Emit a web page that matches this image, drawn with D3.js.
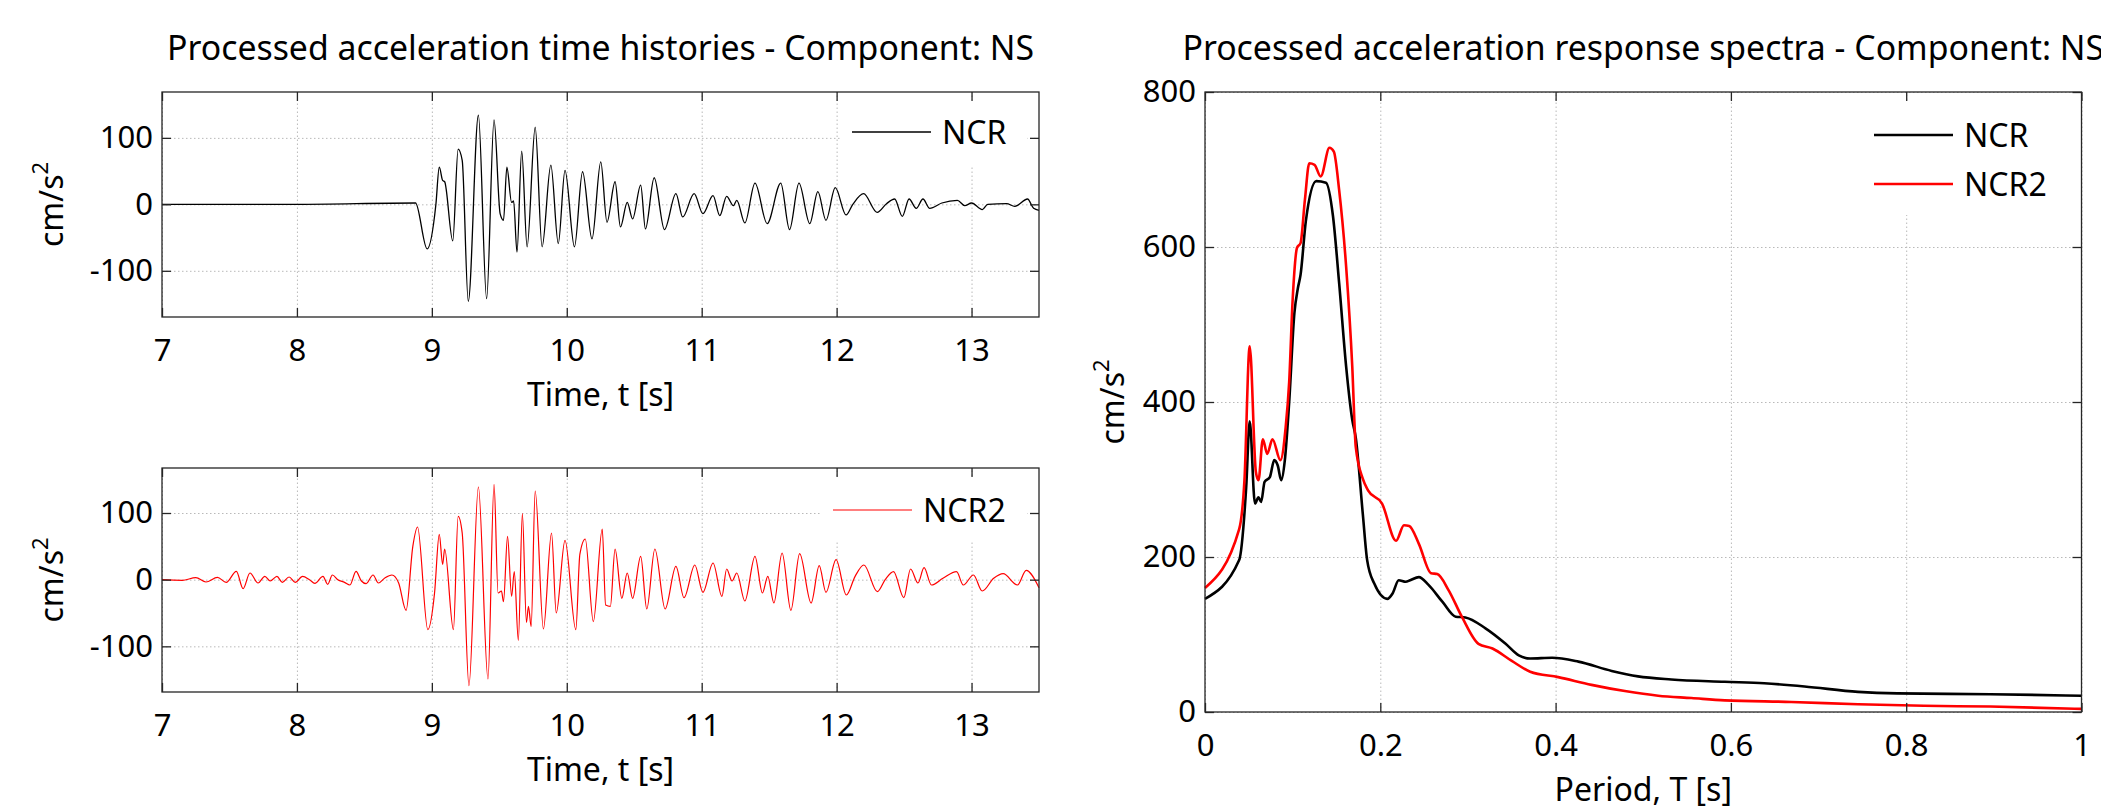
<!DOCTYPE html>
<html>
<head>
<meta charset="utf-8">
<script src="https://cdn.jsdelivr.net/npm/d3@7"></script>
<style>
  body { margin: 0; background: #fff; }
  svg { display: block; font-family: "Noto Sans", sans-serif; }
  .grid line { stroke: #b9b9b9; stroke-dasharray: 1.5 2.5; stroke-width: 1; }
  .grid .domain { display: none; }
  .ticks .domain { display: none; }
  .ticks line { stroke: #262626; stroke-width: 1.3; }
  .ticks text { font-size: 31px; fill: #000; font-family: "Noto Sans", sans-serif; }
  .frame { fill: none; stroke: #262626; stroke-width: 1.3; }
  .label, .legend text { fill: #000; font-size: 32px; }
  .title { fill: #000; font-size: 33.8px; }
</style>
</head>
<body>
<svg id="chart" width="2101" height="811"></svg>
<script>
// tick labels
const timeTicks = [7, 8, 9, 10, 11, 12, 13];
const accTicks = [-100, 0, 100];
const periodTicks = [0, 0.2, 0.4, 0.6, 0.8, 1];
const saTicks = [0, 200, 400, 600, 800];

// NCR acceleration time history (s, cm/s2), peaks and troughs
const ncrTime = [7, 8, 8.879, 8.965, 9.03, 9.055, 9.08, 9.095, 9.155, 9.195, 9.225, 9.27, 9.345, 9.406,
  9.461, 9.506, 9.531, 9.556, 9.591, 9.606, 9.631, 9.666, 9.706, 9.766, 9.817, 9.882, 9.937, 9.987,
  10.057, 10.117, 10.187, 10.252, 10.298, 10.358, 10.398, 10.448, 10.488, 10.548, 10.583, 10.648,
  10.724, 10.809, 10.859, 10.944, 11.009, 11.084, 11.134, 11.185, 11.235, 11.26, 11.32, 11.395,
  11.485, 11.586, 11.651, 11.721, 11.801, 11.861, 11.921, 11.99, 12.07, 12.12, 12.2, 12.3, 12.37,
  12.43, 12.487, 12.537, 12.59, 12.64, 12.69, 12.78, 12.895, 12.95, 13.0, 13.08, 13.12, 13.26,
  13.32, 13.415, 13.46, 13.5];
const ncrAcc = [0, 0, 2, -67, 0, 56, 36, 34, -55, 83, 66, -146, 134, -142,
  127, -14, -24, 56, 3, 5, -72, 80, -64, 116, -64, 59, -59, 51,
  -64, 49, -52, 64, -27, 34, -34, 3, -22, 29, -37, 40,
  -38, 16, -19, 16, -14, 13, -17, 12, -2, 6, -28, 32,
  -29, 32, -38, 32, -29, 19, -24, 25, -16, 0, 16, -12, 1,
  8, -18, 8, -6, 8, -6, 2, 6, -2, 2, -8, 0, 1,
  -3, 8, -6, -9];

// NCR2 acceleration time history (s, cm/s2)
const ncr2Time = [7, 7.15, 7.251, 7.326, 7.411, 7.476, 7.551, 7.601, 7.652, 7.712, 7.762, 7.802, 7.852,
  7.892, 7.942, 7.987, 8.042, 8.093, 8.133, 8.193, 8.228, 8.263, 8.303, 8.353, 8.393, 8.438, 8.478,
  8.513, 8.564, 8.604, 8.654, 8.704, 8.754, 8.809, 8.859, 8.894, 8.97, 9.02, 9.055, 9.08, 9.095,
  9.16, 9.195, 9.225, 9.275, 9.345, 9.416, 9.461, 9.491, 9.516, 9.531, 9.561, 9.591, 9.611, 9.641,
  9.671, 9.701, 9.716, 9.736, 9.766, 9.827, 9.887, 9.922, 9.987, 10.067, 10.097, 10.137, 10.197,
  10.263, 10.288, 10.323, 10.358, 10.408, 10.448, 10.488, 10.548, 10.593, 10.653, 10.729, 10.809,
  10.869, 10.949, 11.009, 11.084, 11.15, 11.185, 11.225, 11.26, 11.32, 11.395, 11.45, 11.49, 11.535,
  11.596, 11.661, 11.726, 11.811, 11.871, 11.921, 11.996, 12.072, 12.137, 12.202, 12.302, 12.36,
  12.422, 12.498, 12.548, 12.603, 12.648, 12.703, 12.788, 12.889, 12.939, 13.014, 13.079, 13.164,
  13.234, 13.34, 13.405, 13.5];
const ncr2Acc = [0, -1, 3, -3.5, 3.5, -4, 12.5, -13.5, 10, -5, 5, -2, 5,
  -4, 4, -4, 5, 0, -5.5, 5, -7, 7, 0, -4, -8, 12.5, -2,
  -6, 7, -5, 3, 7, -5, -46, 50, 79, -75, -20, 68, 23, 46,
  -75, 95, 70, -159, 139, -149, 143, -20, -17, -33, 65, -25, 12, -91,
  99, -64, -40, -70, 133, -74, 70, -50, 59, -75, 38, 61, -63,
  76, -38, -40, 46, -28, 10, -28, 35, -44, 46, -44, 20,
  -27, 22, -19, 25, -25, 16, -2, 10, -32, 35, -20, 5, -35,
  40, -46, 39, -35, 21, -19, 30, -23, 5, 22, -18, 0,
  12, -27, 16, -5, 18, -8, 2, 12, -8, 7, -17, 2,
  9, -8, 14, -12];

// response spectra (s, cm/s2)
const ncrPeriod = [0, 0.039, 0.047, 0.051, 0.057, 0.061, 0.064, 0.068, 0.074, 0.079, 0.083, 0.087,
  0.091, 0.096, 0.102, 0.106, 0.109, 0.115, 0.127, 0.138, 0.146, 0.153, 0.161, 0.168, 0.172,
  0.18, 0.185, 0.193, 0.208, 0.214, 0.221, 0.229, 0.234, 0.244, 0.255, 0.271, 0.286, 0.297,
  0.32, 0.343, 0.358, 0.371, 0.396, 0.426, 0.464, 0.494, 0.532, 0.593, 0.638, 0.684, 0.745,
  0.79, 0.896, 1];
const ncrSa = [146, 196, 290, 375, 269, 277, 271, 297, 303, 325, 318, 299,
  324, 399, 515, 547, 564, 633, 685, 683, 640, 554, 446, 377, 354,
  256, 196, 166, 146, 153, 170, 168, 170, 174, 164, 142, 123, 122,
  108, 88, 73, 69, 70, 65, 53, 46, 42, 39, 37, 33, 26,
  24, 23, 21];
const ncr2Period = [0, 0.039, 0.045, 0.051, 0.058, 0.061, 0.066, 0.071, 0.077, 0.086, 0.092, 0.096,
  0.1, 0.105, 0.109, 0.114, 0.119, 0.125, 0.132, 0.142, 0.147, 0.153, 0.161, 0.168, 0.172,
  0.18, 0.186, 0.202, 0.218, 0.227, 0.233, 0.244, 0.258, 0.265, 0.278, 0.293, 0.312, 0.328,
  0.35, 0.371, 0.403, 0.441, 0.479, 0.517, 0.555, 0.593, 0.669, 0.745, 0.82, 0.896, 1];
const ncr2Sa = [160, 236, 299, 472, 310, 299, 352, 333, 352, 325, 367, 425,
  532, 599, 605, 661, 708, 706, 691, 728, 723, 674, 575, 446, 342,
  301, 286, 269, 221, 241, 240, 217, 179, 178, 157, 123, 88, 82,
  66, 52, 45, 35, 27, 21, 18, 15, 13, 10, 8, 7, 4];

const svg = d3.select('#chart');
const tick = 9;

function drawPanel(opts) {
  const { box, xDomain, yDomain, xTicks, yTicks } = opts;
  const x = d3.scaleLinear().domain(xDomain).range([box.x, box.x + box.w]);
  const y = d3.scaleLinear().domain(yDomain).range([box.y + box.h, box.y]);

  // dotted grid
  svg.append('g').attr('class', 'grid')
    .attr('transform', `translate(0, ${box.y + box.h})`)
    .call(d3.axisBottom(x).tickValues(xTicks).tickSize(-box.h).tickFormat(''));
  svg.append('g').attr('class', 'grid')
    .attr('transform', `translate(${box.x}, 0)`)
    .call(d3.axisLeft(y).tickValues(yTicks).tickSize(-box.w).tickFormat(''));

  // legend background hides the grid under it
  if (opts.legend) {
    svg.append('rect')
      .attr('x', opts.legend.box[0]).attr('y', opts.legend.box[1])
      .attr('width', opts.legend.box[2]).attr('height', opts.legend.box[3])
      .attr('fill', '#fff');
  }

  opts.series.forEach((s) => {
    const line = d3.line()
      .x((d, i) => x(s.xs[i]))
      .y((d) => y(d))
      .curve(d3.curveMonotoneX);
    svg.append('path')
      .datum(s.ys)
      .attr('d', line)
      .attr('fill', 'none')
      .attr('stroke', s.color)
      .attr('stroke-width', s.width)
      .attr('stroke-linejoin', 'round');
  });

  // ticks on all four sides, pointing inwards
  svg.append('g').attr('class', 'ticks')
    .attr('transform', `translate(0, ${box.y + box.h})`)
    .call(d3.axisBottom(x).tickValues(xTicks).tickSizeInner(-tick).tickSizeOuter(0)
      .tickPadding(22).tickFormat((d) => String(d)));
  svg.append('g').attr('class', 'ticks')
    .attr('transform', `translate(0, ${box.y})`)
    .call(d3.axisTop(x).tickValues(xTicks).tickSizeInner(-tick).tickSizeOuter(0).tickFormat(''));
  svg.append('g').attr('class', 'ticks')
    .attr('transform', `translate(${box.x}, 0)`)
    .call(d3.axisLeft(y).tickValues(yTicks).tickSizeInner(-tick).tickSizeOuter(0)
      .tickPadding(9).tickFormat((d) => String(d)));
  svg.append('g').attr('class', 'ticks')
    .attr('transform', `translate(${box.x + box.w}, 0)`)
    .call(d3.axisRight(y).tickValues(yTicks).tickSizeInner(-tick).tickSizeOuter(0).tickFormat(''));

  svg.append('rect').attr('class', 'frame')
    .attr('x', box.x).attr('y', box.y).attr('width', box.w).attr('height', box.h);

  if (opts.title) {
    svg.append('text').attr('class', 'title')
      .attr('x', box.x + box.w / 2).attr('y', 60)
      .attr('text-anchor', 'middle')
      .text(opts.title);
  }

  svg.append('text').attr('class', 'label')
    .attr('x', box.x + box.w / 2).attr('y', box.y + box.h + 89)
    .attr('text-anchor', 'middle')
    .text(opts.xLabel);

  const yl = svg.append('text').attr('class', 'label')
    .attr('transform', `translate(${opts.yLabelX}, ${box.y + box.h / 2}) rotate(-90)`)
    .attr('text-anchor', 'middle');
  yl.append('tspan').text('cm/s');
  yl.append('tspan').attr('dy', -15).attr('font-size', 22).text('2');

  if (opts.legend) {
    opts.legend.items.forEach((it, i) => {
      const ly = opts.legend.y + i * opts.legend.step;
      const g = svg.append('g').attr('class', 'legend');
      g.append('line')
        .attr('x1', opts.legend.x).attr('x2', opts.legend.x + 79)
        .attr('y1', ly).attr('y2', ly)
        .attr('stroke', it.color).attr('stroke-width', it.width);
      g.append('text')
        .attr('x', opts.legend.x + 90).attr('y', ly)
        .attr('dy', '0.36em')
        .text(it.name);
    });
  }
}

drawPanel({
  box: { x: 162, y: 92, w: 877, h: 225 },
  xDomain: [7, 13.5], yDomain: [-169.5, 169],
  xTicks: timeTicks, yTicks: accTicks,
  series: [{ xs: ncrTime, ys: ncrAcc, color: '#000', width: 1.3 }],
  title: 'Processed acceleration time histories - Component: NS',
  xLabel: 'Time, t [s]', yLabelX: 63,
  legend: { box: [840, 100, 187, 66], x: 852, y: 132, step: 0,
    items: [{ name: 'NCR', color: '#000', width: 1.3 }] }
});

drawPanel({
  box: { x: 162, y: 468, w: 877, h: 224 },
  xDomain: [7, 13.5], yDomain: [-168.5, 167.5],
  xTicks: timeTicks, yTicks: accTicks,
  series: [{ xs: ncr2Time, ys: ncr2Acc, color: '#ff0000', width: 1.2 }],
  xLabel: 'Time, t [s]', yLabelX: 63,
  legend: { box: [822, 478, 205, 64], x: 833, y: 510, step: 0,
    items: [{ name: 'NCR2', color: '#ff0000', width: 1.2 }] }
});

drawPanel({
  box: { x: 1205, y: 92, w: 876.5, h: 620 },
  xDomain: [0, 1], yDomain: [0, 800],
  xTicks: periodTicks, yTicks: saTicks,
  series: [
    { xs: ncrPeriod, ys: ncrSa, color: '#000', width: 2.6 },
    { xs: ncr2Period, ys: ncr2Sa, color: '#ff0000', width: 2.6 }
  ],
  title: 'Processed acceleration response spectra - Component: NS',
  xLabel: 'Period, T [s]', yLabelX: 1124,
  legend: { box: [1862, 100, 208, 115], x: 1874, y: 135, step: 49,
    items: [
      { name: 'NCR', color: '#000', width: 2.6 },
      { name: 'NCR2', color: '#ff0000', width: 2.6 }
    ] }
});
</script>
</body>
</html>
